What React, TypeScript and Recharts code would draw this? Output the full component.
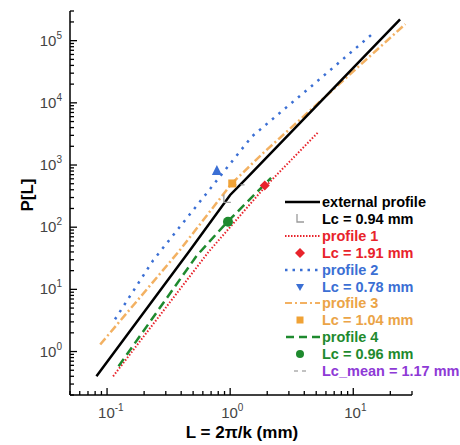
import React from 'react';
import { ComposedChart, Line, Scatter, XAxis, YAxis } from 'recharts';

// values (log-log)
const externalX = [0.082, 0.47, 1.0, 1.32, 24];
const externalY = [0.4, 42, 330, 575, 2.2e5];
const profile1X = [0.112, 0.667, 1.93, 5.25];
const profile1Y = [0.4, 40, 450, 3450];
const profile2X = [0.116, 0.237, 1.5, 4.6, 14.6];
const profile2Y = [3.3, 29.4, 2870, 18700, 1.33e5];
const profile3X = [0.088, 0.38, 1.03, 1.85, 26.5];
const profile3Y = [1.3, 40, 505, 1550, 1.85e5];
const profile4X = [0.124, 0.536, 0.95, 2.15];
const profile4Y = [0.58, 35, 122, 620];

// Lc markers: [L, P]
const lcExternal = [0.94, 280];
const lcProfile1 = [1.91, 470];
const lcProfile2 = [0.78, 800];
const lcProfile3 = [1.04, 505];
const lcProfile4 = [0.96, 122];
const lcMean = [1.17, 480];

const majorX = [0.1, 1, 10];
const majorY = [1, 10, 100, 1000, 1e4, 1e5];
const xDomain = [0.05, 30];
const yDomain = [0.2, 3e5];

const legendLabels = [
  'external profile',
  'Lc = 0.94 mm',
  'profile 1',
  'Lc = 1.91 mm',
  'profile 2',
  'Lc = 0.78 mm',
  'profile 3',
  'Lc = 1.04 mm',
  'profile 4',
  'Lc = 0.96 mm',
  'Lc_mean = 1.17 mm',
];

const RED = '#e8232b';
const BLUE = '#3b6fd4';
const ORANGE = '#f3b162';
const ORANGE_TXT = '#eba447';
const GREEN = '#1e8a2e';
const PURPLE = '#8e3ad6';
const GRAY = '#9a9a9a';

const legendColors = ['#000', '#000', RED, RED, BLUE, BLUE, ORANGE_TXT, ORANGE_TXT, GREEN, GREEN, PURPLE];

const zip = (xs: number[], ys: number[]) => xs.map((x, i) => ({ x, y: ys[i] }));

// log ticks 1..9 x 10^k inside the domain
const logTicks = (lo: number, hi: number) => {
  const out: number[] = [];
  for (let e = Math.floor(Math.log10(lo)); e <= Math.ceil(Math.log10(hi)); e++) {
    for (let m = 1; m <= 9; m++) {
      const v = m * Math.pow(10, e);
      if (v >= lo * 0.999 && v <= hi * 1.001) out.push(v);
    }
  }
  return out;
};

const isMajor = (v: number, majors: number[]) => majors.some((m) => Math.abs(m - v) / m < 1e-6);

const TICK_FONT = { fontFamily: 'Liberation Sans, Arial, sans-serif', fontSize: 15, fill: '#444' };

const makeTick = (side: 'bottom' | 'top' | 'left' | 'right', majors: number[]) => (props: any) => {
  const { x, y, payload } = props;
  const v = payload.value;
  const major = isMajor(v, majors);
  const len = major ? 7 : 4;
  const exp = Math.round(Math.log10(v));
  let line;
  if (side === 'bottom') line = <line x1={x} y1={y} x2={x} y2={y - len} stroke="#000" strokeWidth={1.3} />;
  else if (side === 'top') line = <line x1={x} y1={y} x2={x} y2={y + len} stroke="#000" strokeWidth={1.3} />;
  else if (side === 'left') line = <line x1={x} y1={y} x2={x + len} y2={y} stroke="#000" strokeWidth={1.3} />;
  else line = <line x1={x} y1={y} x2={x - len} y2={y} stroke="#000" strokeWidth={1.3} />;
  let label = null;
  if (major && side === 'bottom') {
    label = (
      <text x={x - 9} y={y + 23} textAnchor="start" {...TICK_FONT}>
        <tspan>10</tspan>
        <tspan dy={-7} fontSize={10}>{exp}</tspan>
      </text>
    );
  }
  if (major && side === 'left') {
    label = (
      <text x={x - 8} y={y + 5} textAnchor="end" {...TICK_FONT}>
        <tspan>10</tspan>
        <tspan dy={-7} fontSize={10}>{exp}</tspan>
      </text>
    );
  }
  return (
    <g>
      {line}
      {label}
    </g>
  );
};

const LShape = ({ cx, cy }: any) => (
  <path d={`M${cx - 3},${cy - 5} L${cx - 3},${cy + 3} L${cx + 4},${cy + 3}`} fill="none" stroke={GRAY} strokeWidth={1.3} />
);
const Diamond = ({ cx, cy }: any) => (
  <path d={`M${cx},${cy - 5} L${cx + 5},${cy} L${cx},${cy + 5} L${cx - 5},${cy} Z`} fill={RED} />
);
const TriUp = ({ cx, cy }: any) => (
  <path d={`M${cx},${cy - 6} L${cx + 5},${cy + 4} L${cx - 5},${cy + 4} Z`} fill={BLUE} />
);
const TriDown = ({ cx, cy }: any) => (
  <path d={`M${cx - 4},${cy - 3} L${cx + 4},${cy - 3} L${cx},${cy + 4} Z`} fill={BLUE} />
);
const Square = ({ cx, cy, s = 8 }: any) => (
  <rect x={cx - s / 2} y={cy - s / 2} width={s} height={s} fill="#f0a236" />
);
const Dot = ({ cx, cy, r = 5 }: any) => <circle cx={cx} cy={cy} r={r} fill={GREEN} />;
const MeanMark = ({ cx, cy }: any) => (
  <g stroke={GRAY} strokeWidth={1.2}>
    <line x1={cx - 6} y1={cy} x2={cx - 2} y2={cy} />
    <line x1={cx + 2} y1={cy} x2={cx + 6} y2={cy} />
  </g>
);

const legendSymbol = (i: number) => {
  const cy = 8;
  switch (i) {
    case 0:
      return <line x1={2} y1={cy} x2={37} y2={cy} stroke="#000" strokeWidth={2.5} />;
    case 1:
      return <LShape cx={17} cy={cy} />;
    case 2:
      return <line x1={2} y1={cy} x2={37} y2={cy} stroke={RED} strokeWidth={2} strokeDasharray="1.5 1.5" />;
    case 3:
      return <Diamond cx={17} cy={cy} />;
    case 4:
      return <line x1={2} y1={cy} x2={37} y2={cy} stroke={BLUE} strokeWidth={2.5} strokeDasharray="2.5 5" />;
    case 5:
      return <TriDown cx={17} cy={cy} />;
    case 6:
      return <line x1={2} y1={cy} x2={37} y2={cy} stroke={ORANGE} strokeWidth={2} strokeDasharray="7 3 2 3" />;
    case 7:
      return <Square cx={17} cy={cy} s={7} />;
    case 8:
      return <line x1={3} y1={cy} x2={37} y2={cy} stroke={GREEN} strokeWidth={2.5} strokeDasharray="8 5" />;
    case 9:
      return <Dot cx={17} cy={cy} r={4} />;
    default:
      return <MeanMark cx={17} cy={cy} />;
  }
};

const App: React.FC = () => {
  const xt = logTicks(xDomain[0], xDomain[1]);
  const yt = logTicks(yDomain[0], yDomain[1]);

  return (
    <div style={{ position: 'absolute', left: 0, top: 0, width: 460, height: 445, overflow: 'hidden', background: '#fff' }}>
      <ComposedChart width={460} height={445} margin={{ top: 11, right: 48, bottom: 10, left: 10 }}>
        <XAxis
          xAxisId="b"
          dataKey="x"
          type="number"
          scale="log"
          domain={xDomain}
          allowDataOverflow
          ticks={xt}
          interval={0}
          tickSize={0}
          tickMargin={0}
          height={40}
          axisLine={{ stroke: '#000', strokeWidth: 1.5 }}
          tick={makeTick('bottom', majorX)}
        />
        <XAxis
          xAxisId="t"
          orientation="top"
          dataKey="x"
          type="number"
          scale="log"
          domain={xDomain}
          allowDataOverflow
          ticks={xt}
          interval={0}
          tickSize={0}
          tickMargin={0}
          height={0}
          axisLine={{ stroke: '#000', strokeWidth: 1.5 }}
          tick={makeTick('top', majorX)}
        />
        <YAxis
          yAxisId="l"
          type="number"
          scale="log"
          domain={yDomain}
          allowDataOverflow
          ticks={yt}
          interval={0}
          tickSize={0}
          tickMargin={0}
          width={60}
          axisLine={{ stroke: '#000', strokeWidth: 1.5 }}
          tick={makeTick('left', majorY)}
        />
        <YAxis
          yAxisId="r"
          orientation="right"
          type="number"
          scale="log"
          domain={yDomain}
          allowDataOverflow
          ticks={yt}
          interval={0}
          tickSize={0}
          tickMargin={0}
          width={0}
          axisLine={{ stroke: '#000', strokeWidth: 1.5 }}
          tick={makeTick('right', majorY)}
        />

        <Line xAxisId="b" yAxisId="l" data={zip(profile1X, profile1Y)} dataKey="y" type="linear" stroke={RED} strokeWidth={2} strokeDasharray="1.5 1.8" dot={false} isAnimationActive={false} />
        <Line xAxisId="b" yAxisId="l" data={zip(profile2X, profile2Y)} dataKey="y" type="linear" stroke={BLUE} strokeWidth={2.5} strokeDasharray="2.5 6" dot={false} isAnimationActive={false} />
        <Line xAxisId="b" yAxisId="l" data={zip(profile3X, profile3Y)} dataKey="y" type="linear" stroke={ORANGE} strokeWidth={2.5} strokeDasharray="8 3 2 3" dot={false} isAnimationActive={false} />
        <Line xAxisId="b" yAxisId="l" data={zip(profile4X, profile4Y)} dataKey="y" type="linear" stroke={GREEN} strokeWidth={2.5} strokeDasharray="9 5" dot={false} isAnimationActive={false} />
        <Line xAxisId="b" yAxisId="l" data={zip(externalX, externalY)} dataKey="y" type="linear" stroke="#000" strokeWidth={2.5} dot={false} isAnimationActive={false} />

        <Scatter xAxisId="b" yAxisId="l" data={[{ x: lcExternal[0], y: lcExternal[1] }]} dataKey="y" shape={LShape} isAnimationActive={false} />
        <Scatter xAxisId="b" yAxisId="l" data={[{ x: lcMean[0], y: lcMean[1] }]} dataKey="y" shape={MeanMark} isAnimationActive={false} />
        <Scatter xAxisId="b" yAxisId="l" data={[{ x: lcProfile1[0], y: lcProfile1[1] }]} dataKey="y" shape={Diamond} isAnimationActive={false} />
        <Scatter xAxisId="b" yAxisId="l" data={[{ x: lcProfile2[0], y: lcProfile2[1] }]} dataKey="y" shape={TriUp} isAnimationActive={false} />
        <Scatter xAxisId="b" yAxisId="l" data={[{ x: lcProfile3[0], y: lcProfile3[1] }]} dataKey="y" shape={Square} isAnimationActive={false} />
        <Scatter xAxisId="b" yAxisId="l" data={[{ x: lcProfile4[0], y: lcProfile4[1] }]} dataKey="y" shape={Dot} isAnimationActive={false} />
      </ComposedChart>

      {/* axis titles */}
      <div
        style={{
          position: 'absolute',
          left: 0,
          width: 484,
          top: 423,
          textAlign: 'center',
          font: 'bold 17px "Liberation Sans", Arial, sans-serif',
        }}
      >
        L = 2π/k (mm)
      </div>
      <div
        style={{
          position: 'absolute',
          left: 28,
          top: 195,
          transform: 'translate(-50%, -50%) rotate(-90deg)',
          font: 'bold 17px "Liberation Sans", Arial, sans-serif',
          whiteSpace: 'nowrap',
        }}
      >
        P[L]
      </div>

      {/* legend */}
      <div style={{ position: 'absolute', left: 283, top: 194 }}>
        {legendLabels.map((label, i) => (
          <div key={label} style={{ display: 'flex', alignItems: 'center', height: 16.85 }}>
            <svg width={39} height={16} style={{ flex: 'none' }}>
              {legendSymbol(i)}
            </svg>
            <span
              style={{
                color: legendColors[i],
                font: 'bold 14.5px "Liberation Sans", Arial, sans-serif',
                whiteSpace: 'nowrap',
              }}
            >
              {label}
            </span>
          </div>
        ))}
      </div>
    </div>
  );
};

export default App;
